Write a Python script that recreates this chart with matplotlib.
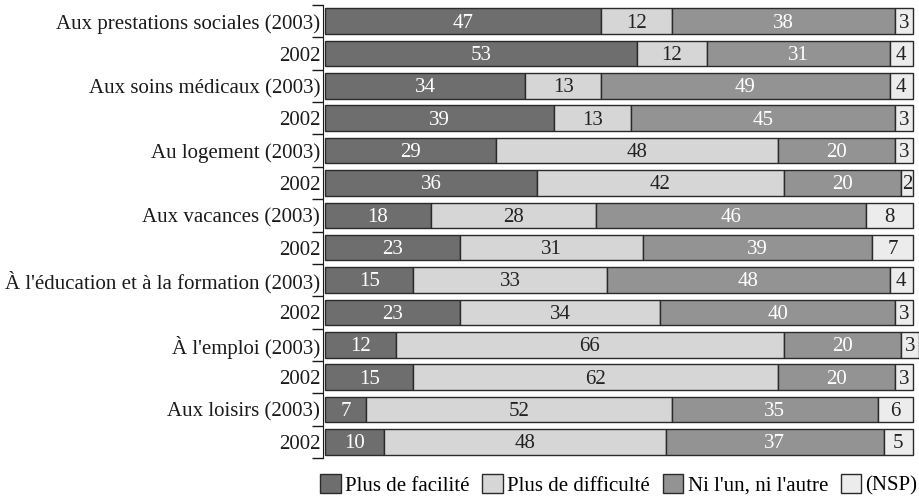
import matplotlib
matplotlib.use("Agg")
import matplotlib.pyplot as plt
import numpy as np

# libellés des barres (de haut en bas)
labels = [
    "Aux prestations sociales (2003)", "2002",
    "Aux soins médicaux (2003)", "2002",
    "Au logement (2003)", "2002",
    "Aux vacances (2003)", "2002",
    "À l'éducation et à la formation (2003)", "2002",
    "À l'emploi (2003)", "2002",
    "Aux loisirs (2003)", "2002",
]

facilite   = [47, 53, 34, 39, 29, 36, 18, 23, 15, 23, 12, 15, 7, 10]
difficulte = [12, 12, 13, 13, 48, 42, 28, 31, 33, 34, 66, 62, 52, 48]
ni_ni      = [38, 31, 49, 45, 20, 20, 46, 39, 48, 40, 20, 20, 35, 37]
nsp        = [3, 4, 4, 3, 3, 2, 8, 7, 4, 3, 3, 3, 6, 5]

series_names = ["Plus de facilité", "Plus de difficulté", "Ni l'un, ni l'autre", "(NSP)"]
colors = ["#6e6e6e", "#d6d6d6", "#939393", "#ececec"]
txt_colors = ["white", "#222222", "white", "#222222"]

plt.rcParams["font.family"] = ["Liberation Serif", "DejaVu Serif"]

fig = plt.figure(figsize=(9.19, 4.96), dpi=100)
ax = fig.add_axes([323 / 919, 1 - 458 / 496, (919 - 323) / 919, (458 - 5) / 496])

y = np.arange(len(labels))
left = np.zeros(len(labels))
handles = []
for vals, name, col, tcol in zip([facilite, difficulte, ni_ni, nsp], series_names, colors, txt_colors):
    vals = np.array(vals, dtype=float)
    bars = ax.barh(y, vals, left=left, height=0.79, color=col,
                   edgecolor="#2a2a2a", linewidth=1.0, label=name)
    handles.append(bars)
    for yi, l, v in zip(y, left, vals):
        ax.text(l + v / 2, yi + 0.06, f"{int(v)}", ha="center", va="center",
                color=tcol, fontsize=15)
    left += vals

ax.set_xlim(-0.35, 101.0)
ax.set_ylim(len(labels) - 0.5, -0.5)

ax.set_yticks(y)
ax.set_yticklabels(labels, fontsize=15)
ax.set_yticks(np.arange(len(labels) + 1) - 0.5, minor=True)
ax.tick_params(axis="y", which="major", length=0, pad=2, colors="#1a1a1a")
ax.tick_params(axis="y", which="minor", length=8, width=1.0, color="#1a1a1a")
ax.set_xticks([])
for s in ["top", "right", "bottom"]:
    ax.spines[s].set_visible(False)
ax.spines["left"].set_color("#1a1a1a")

fig.legend(handles=handles, labels=series_names, loc="lower right",
           bbox_to_anchor=(1.012, -0.025), ncol=4, frameon=False, fontsize=15,
           handlelength=1.0, handleheight=1.0, handletextpad=0.2,
           columnspacing=0.6, borderaxespad=0.2)

fig.savefig("out.png", dpi=100)
